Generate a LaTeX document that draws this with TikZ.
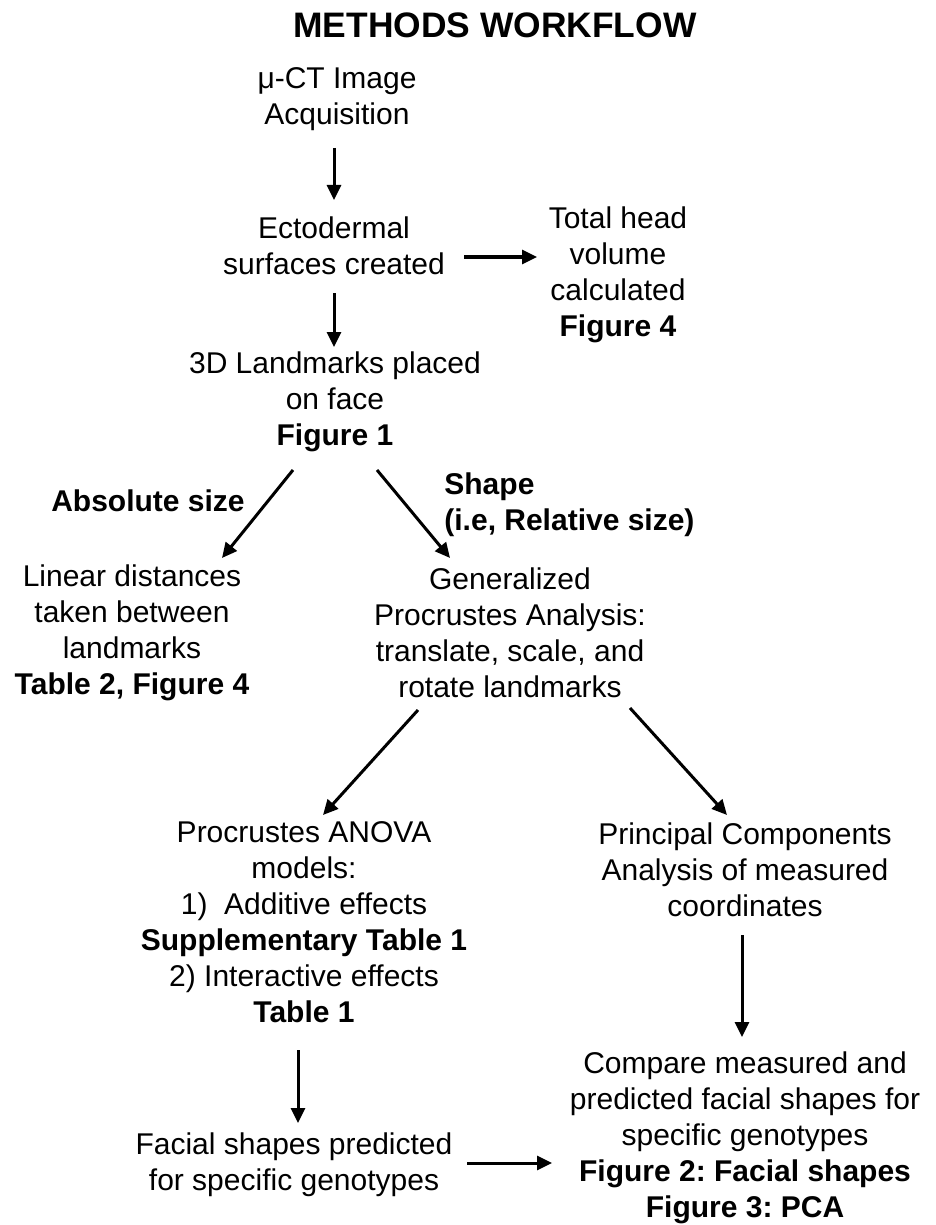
\documentclass[tikz,border=0pt]{standalone}
\usepackage{fontspec}
\setmainfont{Liberation Sans}
\usetikzlibrary{arrows.meta,calc}
\frenchspacing
\begin{document}
\begin{tikzpicture}[x=0.5pt,y=-0.5pt,
  txt/.style={inner sep=0pt,align=center,font=\frenchspacing\fontsize{15}{18}\selectfont},
  lbl/.style={inner sep=0pt,align=left,font=\fontsize{15}{18}\selectfont\bfseries},
  ttl/.style={inner sep=0pt,font=\fontsize{17.7}{21}\selectfont\bfseries},
  arr/.style={line width=1.5pt,-{Triangle[length=7.5pt,width=7pt]}}]
\useasboundingbox (0,0) rectangle (936,1225);
\node[ttl] (title) at (495,25) {METHODS WORKFLOW};
\node[txt] (mct) at (337,99) {μ-CT Image\\Acquisition};
\node[txt] (ecto) at (334,246) {Ectodermal\\surfaces created};
\node[txt] (vol) at (618,275) {Total head\\volume\\calculated\\\textbf{Figure 4}};
\node[txt] (lmk) at (335,402) {3D Landmarks placed\\on face\\\textbf{Figure 1}};
\node[lbl] (abs) at (148,501) {Absolute size};
\node[lbl,anchor=west] (shape) at (444,505) {Shape\\(i.e, Relative size)};
\node[txt] (lin) at (132,633) {Linear distances\\taken between\\landmarks\\\textbf{Table 2, Figure 4}};
\node[txt] (gpa) at (510,633) {Generalized\\Procrustes Analysis:\\translate, scale, and\\rotate landmarks};
\node[txt] (anova) at (304,922) {Procrustes ANOVA\\models:\\1)\ \ Additive effects\\\textbf{Supplementary Table 1}\\2) Interactive effects\\\textbf{Table 1}};
\node[txt] (pca) at (745,870) {Principal Components\\Analysis of measured\\coordinates};
\node[txt] (pred) at (294,1165) {Facial shapes predicted\\for specific genotypes};
\node[txt] (cmp) at (745,1138) {Compare measured and\\predicted facial shapes for\\specific genotypes\\\textbf{Figure 2: Facial shapes}\\\textbf{Figure 3: PCA}};
\draw[arr] ($(ecto.center |- mct.center)+(0,49)$) -- ($(ecto.center)+(0,-46)$);
\draw[arr] ($(ecto.center)+(130,11)$) -- ($(vol.center)+(-81,-18)$);
\draw[arr] ($(ecto.center)+(0,47)$) -- ($(ecto.center |- lmk.center)+(0,-55)$);
\draw[arr] ($(lmk.center)+(-42,68)$) -- ($(lin.center)+(90,-75)$);
\draw[arr] ($(lmk.center)+(42,68)$) -- ($(gpa.center)+(-60,-75)$);
\draw[arr] ($(gpa.center)+(-92,77)$) -- ($(anova.center)+(19,-107)$);
\draw[arr] ($(gpa.center)+(120,75)$) -- ($(pca.center)+(-18,-55)$);
\draw[arr] ($(pca.center)+(-3,65)$) -- ($(cmp.center)+(-3,-101)$);
\draw[arr] ($(anova.center)+(-6,128)$) -- ($(pred.center)+(4,-42)$);
\draw[arr] ($(pred.center)+(173,-2)$) -- ($(cmp.center)+(-193,25)$);
\end{tikzpicture}
\end{document}
